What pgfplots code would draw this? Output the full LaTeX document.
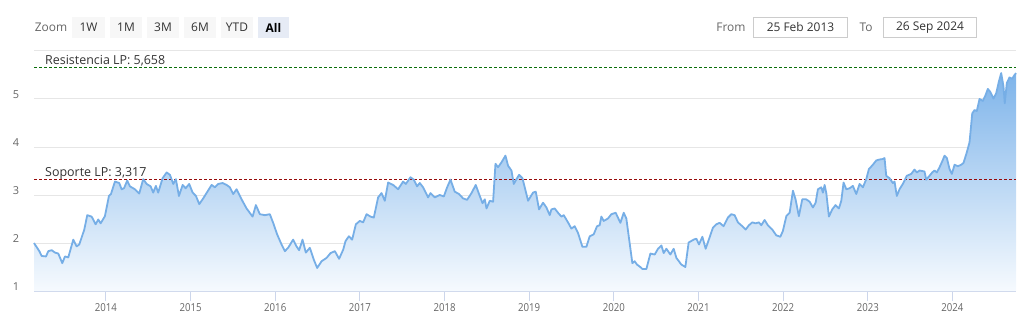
\documentclass[border=0pt]{standalone}
\usepackage{fontspec}
\setmainfont{Open Sans}
\usepackage{pgfplots}
\pgfplotsset{compat=1.18}
\usepackage{pgfplotstable}

\definecolor{linecol}{RGB}{118,174,230}
\definecolor{filltop}{RGB}{126,180,234}
\definecolor{fillbot}{RGB}{246,250,254}
\definecolor{gridcol}{RGB}{230,230,230}
\definecolor{axiscol}{RGB}{204,214,235}
\definecolor{txtgrey}{RGB}{102,102,102}
\definecolor{txtdark}{RGB}{51,51,51}
\definecolor{resgreen}{RGB}{10,110,10}
\definecolor{supred}{RGB}{150,10,10}
\definecolor{btnfill}{RGB}{247,247,247}
\definecolor{btnsel}{RGB}{230,235,245}
\definecolor{boxborder}{RGB}{204,204,204}

\pgfplotstableread{
x y
2013.150 2.00
2013.213 1.83
2013.241 1.73
2013.292 1.72
2013.319 1.83
2013.359 1.85
2013.398 1.80
2013.437 1.78
2013.484 1.58
2013.516 1.72
2013.555 1.70
2013.614 2.07
2013.654 1.93
2013.685 1.97
2013.744 2.28
2013.779 2.58
2013.831 2.55
2013.878 2.39
2013.909 2.49
2013.937 2.41
2013.988 2.56
2014.035 2.98
2014.059 3.02
2014.106 3.28
2014.157 3.25
2014.185 3.12
2014.213 3.14
2014.251 3.30
2014.283 3.18
2014.342 3.12
2014.393 3.03
2014.440 3.33
2014.481 3.23
2014.528 3.18
2014.558 3.05
2014.590 3.19
2014.617 3.05
2014.669 3.35
2014.717 3.47
2014.756 3.42
2014.795 3.23
2014.826 3.33
2014.862 2.98
2014.906 3.21
2014.941 3.14
2014.983 3.23
2015.024 3.05
2015.063 2.98
2015.102 2.81
2015.149 2.93
2015.181 3.02
2015.248 3.21
2015.287 3.16
2015.326 3.23
2015.378 3.25
2015.425 3.21
2015.464 3.16
2015.503 3.02
2015.543 3.12
2015.602 2.91
2015.661 2.72
2015.732 2.55
2015.771 2.79
2015.818 2.60
2015.877 2.58
2015.936 2.60
2015.975 2.42
2016.022 2.18
2016.074 1.97
2016.113 1.83
2016.152 1.90
2016.211 2.07
2016.251 1.93
2016.282 1.85
2016.322 2.07
2016.361 1.80
2016.408 1.90
2016.456 1.65
2016.495 1.48
2016.547 1.62
2016.606 1.69
2016.653 1.79
2016.704 1.83
2016.754 1.67
2016.802 1.86
2016.830 2.04
2016.869 2.14
2016.908 2.07
2016.952 2.39
2016.999 2.46
2017.038 2.43
2017.078 2.60
2017.125 2.55
2017.164 2.53
2017.215 2.95
2017.255 3.04
2017.294 2.88
2017.333 3.26
2017.392 3.21
2017.451 3.12
2017.510 3.28
2017.542 3.23
2017.597 3.37
2017.636 3.32
2017.675 3.18
2017.707 3.25
2017.746 3.16
2017.805 2.95
2017.834 3.04
2017.884 2.95
2017.943 3.00
2017.991 2.97
2018.030 3.16
2018.070 3.32
2018.120 3.07
2018.171 3.02
2018.218 2.93
2018.266 2.90
2018.318 3.04
2018.368 3.21
2018.407 3.02
2018.448 2.83
2018.475 2.91
2018.495 2.72
2018.534 2.88
2018.573 2.86
2018.601 3.65
2018.632 3.58
2018.672 3.68
2018.719 3.82
2018.750 3.61
2018.790 3.51
2018.817 3.23
2018.849 3.33
2018.880 3.42
2018.920 3.35
2018.947 3.16
2018.986 2.88
2019.045 3.05
2019.077 3.07
2019.116 2.70
2019.163 2.84
2019.203 2.74
2019.242 2.58
2019.262 2.70
2019.301 2.72
2019.340 2.63
2019.380 2.55
2019.407 2.58
2019.458 2.43
2019.498 2.30
2019.537 2.35
2019.576 2.21
2019.628 1.92
2019.675 1.92
2019.714 2.14
2019.761 2.18
2019.801 2.35
2019.832 2.37
2019.852 2.55
2019.880 2.46
2019.930 2.51
2019.970 2.60
2020.021 2.63
2020.077 2.42
2020.116 2.63
2020.147 2.51
2020.186 2.00
2020.218 1.58
2020.245 1.62
2020.273 1.55
2020.305 1.51
2020.336 1.46
2020.384 1.46
2020.431 1.78
2020.482 1.76
2020.521 1.88
2020.561 1.95
2020.588 1.79
2020.620 1.88
2020.667 1.76
2020.706 1.88
2020.738 1.69
2020.797 1.55
2020.844 1.50
2020.883 2.01
2020.942 2.07
2020.974 2.09
2021.005 1.97
2021.045 2.13
2021.084 1.88
2021.131 2.12
2021.170 2.32
2021.210 2.39
2021.249 2.42
2021.296 2.35
2021.347 2.53
2021.387 2.60
2021.426 2.58
2021.465 2.43
2021.517 2.35
2021.556 2.28
2021.595 2.37
2021.635 2.43
2021.674 2.41
2021.713 2.43
2021.741 2.37
2021.780 2.48
2021.819 2.37
2021.871 2.28
2021.918 2.16
2021.966 2.13
2021.996 2.25
2022.037 2.56
2022.076 2.63
2022.115 3.09
2022.146 2.91
2022.185 2.56
2022.225 2.91
2022.272 2.91
2022.312 2.86
2022.351 2.74
2022.383 2.84
2022.410 3.12
2022.450 3.16
2022.469 3.05
2022.489 3.21
2022.509 3.04
2022.540 2.55
2022.579 2.70
2022.618 2.79
2022.658 2.72
2022.686 2.88
2022.713 3.26
2022.745 3.12
2022.784 3.14
2022.823 3.19
2022.863 3.02
2022.902 3.23
2022.941 3.16
2022.981 3.33
2023.012 3.54
2023.059 3.63
2023.099 3.72
2023.138 3.74
2023.177 3.75
2023.197 3.77
2023.217 3.40
2023.256 3.35
2023.295 3.25
2023.315 3.28
2023.342 2.98
2023.374 3.12
2023.413 3.23
2023.460 3.40
2023.512 3.44
2023.551 3.53
2023.578 3.47
2023.610 3.51
2023.669 3.49
2023.689 3.32
2023.728 3.40
2023.760 3.47
2023.787 3.51
2023.815 3.47
2023.847 3.58
2023.878 3.70
2023.906 3.82
2023.933 3.77
2023.965 3.54
2023.992 3.44
2024.024 3.63
2024.063 3.60
2024.103 3.63
2024.130 3.67
2024.169 3.89
2024.201 4.10
2024.233 4.70
2024.260 4.77
2024.287 4.75
2024.319 5.00
2024.358 4.96
2024.390 5.08
2024.417 5.21
2024.445 5.15
2024.484 5.01
2024.516 5.12
2024.547 5.36
2024.575 5.54
2024.602 5.26
2024.617 4.91
2024.641 5.33
2024.673 5.45
2024.705 5.42
2024.728 5.49
2024.750 5.54
}\pricedata

\begin{document}
\begin{tikzpicture}
\begin{scope}[x=1bp,y=1bp]
\path (0,0) rectangle (1029,323);
% range selector
\node[font=\fontsize{12}{14}\selectfont, text=txtgrey] at (51,295.5) {Zoom};
\foreach \a/\b/\lab in {72/105/1W,110/142/1M,147/179/3M,184/216/6M,221/253/YTD}{
  \fill[btnfill] (\a,285) rectangle (\b,306);
  \node[font=\fontsize{12}{14}\selectfont, text=txtdark] at ({(\a+\b)/2},295.5) {\lab};
}
\fill[btnsel] (258,285) rectangle (289,306);
\node[font=\fontsize{12}{14}\selectfont\bfseries, text=black] at (273.5,295.5) {All};
\node[font=\fontsize{12}{14}\selectfont, text=txtgrey] at (731,295.5) {From};
\draw[boxborder, fill=white] (753.5,285.5) rectangle (847.5,305.5);
\node[font=\fontsize{12}{14}\selectfont, text=txtdark] at (800.5,295.5) {25 Feb 2013};
\node[font=\fontsize{12}{14}\selectfont, text=txtgrey] at (866,295.5) {To};
\draw[boxborder, fill=white] (883.5,285.5) rectangle (976.5,305.5);
\node[font=\fontsize{12}{14}\selectfont, text=txtdark] at (930,295.5) {26 Sep 2024};
\end{scope}

\begin{axis}[
  at={(34bp,32bp)}, anchor=south west,
  scale only axis, width=982bp, height=240bp,
  xmin=2013.15, xmax=2024.75, ymin=1, ymax=6,
  xtick={2014,...,2024},
  xticklabels={2014,2015,2016,2017,2018,2019,2020,2021,2022,2023,2024},
  ytick={1,2,3,4,5,6},
  yticklabels={1,2,3,4,5,{}},
  axis x line*=bottom, axis y line*=left,
  x axis line style={draw=axiscol, line width=1bp, -},
  y axis line style={draw=none},
  ymajorgrids,
  major grid style={draw=gridcol, line width=1bp},
  xtick style={draw=axiscol, line width=1bp},
  ytick style={draw=none},
  tick align=outside,
  major tick length=10bp,
  /pgf/number format/assume math mode=true,
  xticklabel style={font=\fontsize{11}{13}\selectfont, text=txtgrey, anchor=center, yshift=-7bp, xscale=0.88},
  yticklabel style={font=\fontsize{11}{13}\selectfont, text=txtgrey, anchor=center, xshift=-8bp, yshift=4.5bp},
  clip=false,
]
\addplot[draw=none, top color=filltop, bottom color=fillbot] table[x=x,y=y] {\pricedata} -- (axis cs:2024.75,1) -- (axis cs:2013.15,1) -- cycle;
\addplot[resgreen, line width=1bp, dash pattern=on 3bp off 2bp] coordinates {(2013.15,5.658) (2024.75,5.658)};
\addplot[supred, line width=1bp, dash pattern=on 3bp off 2bp] coordinates {(2013.15,3.317) (2024.75,3.317)};
\addplot[linecol, line width=1.8bp, line join=round] table[x=x,y=y] {\pricedata};
\node[anchor=base west, inner sep=0, font=\fontsize{12.5}{14}\selectfont, text=txtdark] at (axis cs:2013.15,5.658) [xshift=11bp, yshift=3bp] {Resistencia LP: 5,658};
\node[anchor=base west, inner sep=0, font=\fontsize{12.5}{14}\selectfont, text=txtdark] at (axis cs:2013.15,3.317) [xshift=11bp, yshift=3bp] {Soporte LP: 3,317};
\end{axis}
\end{tikzpicture}
\end{document}
